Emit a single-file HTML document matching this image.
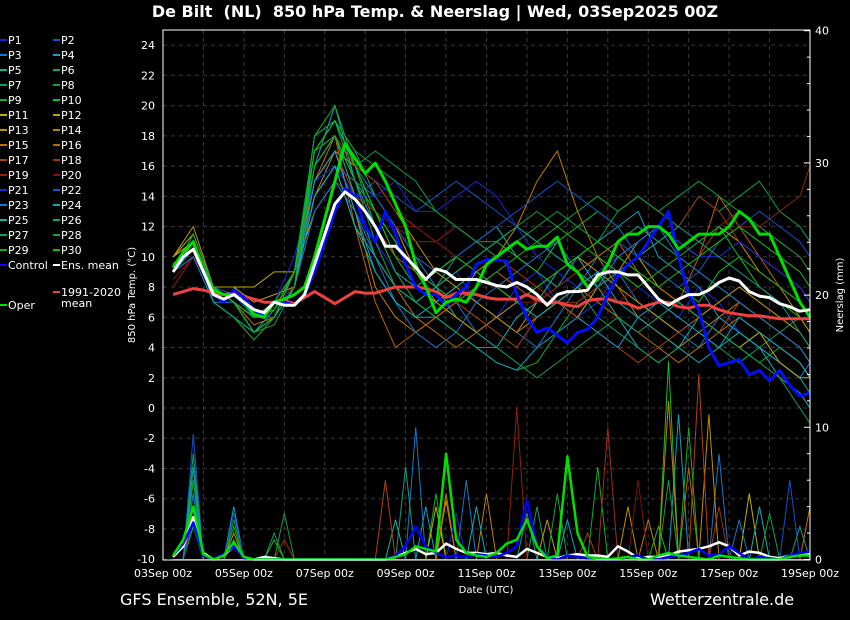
<!DOCTYPE html>
<html><head><meta charset="utf-8">
<style>
html,body{margin:0;padding:0;background:#000;}
svg{display:block;font-family:"DejaVu Sans","Liberation Sans",sans-serif;}
</style></head>
<body>
<svg id="chart" width="850" height="620" viewBox="0 0 850 620" xmlns="http://www.w3.org/2000/svg">
<rect width="850" height="620" fill="#000"/>
<text x="435" y="17" fill="#fff" font-size="16" font-weight="bold" text-anchor="middle">De Bilt &#160;(NL) &#160;850 hPa Temp. &amp; Neerslag | Wed, 03Sep2025 00Z</text>
<g id="grid"></g>
<g id="precip"></g>
<g id="members"></g>
<g id="mains"></g>
<rect x="163" y="30" width="647" height="530" fill="none" stroke="#fff" stroke-width="1"/>
<g id="axes"></g>
<g id="legend"></g>
<text x="486" y="593" fill="#fff" font-size="10" text-anchor="middle">Date (UTC)</text>
<text transform="translate(135,295) rotate(-90)" fill="#fff" font-size="10" text-anchor="middle">850 hPa Temp. (°C)</text>
<text transform="translate(843,295) rotate(-90)" fill="#fff" font-size="10" text-anchor="middle">Neerslag (mm)</text>
<text x="120" y="605" fill="#fff" font-size="16">GFS Ensemble, 52N, 5E</text>
<text x="650" y="605" fill="#fff" font-size="16">Wetterzentrale.de</text>
</svg>
<script>
// ---- data ----
const xTickLabels = ["03Sep 00z","05Sep 00z","07Sep 00z","09Sep 00z","11Sep 00z","13Sep 00z","15Sep 00z","17Sep 00z","19Sep 00z"];
const yTicksLeft = [-10,-8,-6,-4,-2,0,2,4,6,8,10,12,14,16,18,20,22,24];
const yTicksRight = [0,10,20,30,40];
// 6-hourly series starting at +6h
const ensMean = [9.0,10.0,10.5,9.0,7.5,7.2,7.5,7.0,6.5,6.3,7.0,6.8,6.8,7.5,9.5,11.5,13.5,14.3,13.8,13.0,12.0,10.7,10.7,10.0,9.3,8.5,9.2,9.0,8.5,8.5,8.5,8.3,8.1,8.0,8.3,8.0,7.5,6.8,7.5,7.7,7.7,7.8,8.8,9.0,9.0,8.8,8.8,8.0,7.2,6.8,7.2,7.5,7.5,7.8,8.3,8.6,8.4,7.7,7.4,7.3,6.9,6.7,6.4,6.5];
const control = [9.0,10.0,10.5,9.0,7.5,7.0,7.8,7.3,6.5,6.0,7.0,7.0,6.8,7.5,9.0,11.0,13.0,14.5,14.0,12.0,11.0,13.0,11.5,9.5,8.0,7.5,7.5,6.8,7.5,8.0,9.5,9.8,9.8,9.7,7.5,6.0,5.0,5.3,4.8,4.3,5.0,5.2,6.0,7.5,8.7,9.5,10.0,11.0,12.0,13.0,10.0,7.5,6.5,4.0,2.8,3.0,3.2,2.2,2.5,1.8,2.5,1.5,0.8,1.0];
const oper = [9.3,10.3,11.0,9.0,7.8,7.5,7.5,7.0,6.2,6.0,7.0,7.2,7.5,8.0,10.0,12.5,15.0,17.5,16.5,15.5,16.2,15.0,13.5,12.0,9.5,8.0,6.3,7.0,7.2,7.0,8.0,9.5,10.0,10.5,11.0,10.5,10.7,10.7,11.3,9.5,9.0,8.0,8.5,9.5,11.0,11.5,11.5,12.0,12.0,11.5,10.5,11.0,11.5,11.5,11.5,12.0,13.0,12.5,11.5,11.5,10.0,8.5,7.0,6.0];
const climate = [7.5,7.7,7.9,7.8,7.6,7.5,7.6,7.4,7.2,7.0,7.0,7.1,6.9,7.3,7.7,7.3,6.9,7.3,7.7,7.6,7.6,7.8,8.0,8.0,8.0,7.9,7.7,7.3,7.6,7.6,7.5,7.3,7.2,7.2,7.2,7.5,7.2,6.9,7.0,6.8,6.7,7.1,7.2,7.2,7.0,6.9,6.6,6.8,7.0,7.0,6.7,6.6,6.8,6.8,6.5,6.3,6.2,6.1,6.1,6.0,5.9,5.9,5.9,5.9];
const meanPrecip = [0.2,1.0,3.2,0.5,0,0.3,1.0,0.2,0,0.2,0.1,0,0,0,0,0,0,0,0,0,0,0,0.2,0.5,0.8,0.4,0.5,1.2,0.8,0.5,0.5,0.4,0.5,0.3,0.2,0.8,0.5,0.2,0.1,0.3,0.4,0.3,0.3,0.2,1.0,0.6,0.1,0.2,0.2,0.3,0.6,0.7,0.8,1.0,1.3,1.0,0.3,0.6,0.5,0.2,0.1,0.3,0.3,0.4];
const controlPrecip = [0.3,1.2,2.8,0.3,0,0.4,1.0,0.1,0,0,0,0,0,0,0,0,0,0,0,0,0,0,0.3,1.0,2.5,1.0,0.5,0.2,0.3,0.2,0.4,0.3,0.2,0.5,1.0,4.5,1.0,0.2,0,0.3,0.2,0.1,0,0,0,0.2,0.3,0,0,0.2,0.3,0.5,0.8,0.3,0.4,1.0,0.5,0,0.2,0.1,0,0.3,0.5,0.6];
const operPrecip = [0.3,1.5,4.0,0.4,0,0.3,1.3,0.2,0,0,0,0,0,0,0,0,0,0,0,0,0,0,0.2,0.4,1.0,0.8,0.6,8.0,1.5,0.5,0.3,0.2,0.5,1.2,1.5,3.0,1.0,0.1,0.3,7.8,2.0,0.2,0.1,0,0.1,0.2,0,0,0.3,0.5,0.3,0.2,0.1,0,0.3,0.2,0.1,0,0,0,0,0.2,0.3,0.3];
// members, 12-hourly from +6h
const members = [
[9,11,8,7,6,6.5,8,13,15,13,11,9,7,8,9,7,6,8,9,7,6,7,9,8,7,6,8,7,5,4,3,2,3],
[10,11,8,7.5,6,7,9,14,16,14,15,14,13,14,15,14,13,12,11,10,9,10,11,10,12,11,10,12,11,10,9,8,7],
[9,10,7,7,5,6,8,15,17,16,14,12,10,8,7,5,6,5,4,6,8,10,9,7,6,5,4,6,5,4,3,2,3],
[9.5,11,8,8,6,6,8,16,20,15,12,9,8,9,10,11,12,10,9,8,10,11,12,13,10,9,8,6,5,4,3,2,1],
[10,11,8,7,5,6.5,9,14,16,12,10,8,7,8,6,5,4,6,7,9,10,8,6,4,3,4,6,5,4,5,4,3,2],
[9,11.5,8,7,5,6,9,17,19,16,13,10,9,8,10,11,12,10,9,8,9,10,11,12,11,10,9,8,7,6,5,4,3],
[9,11,7,6,5,5.5,8,18,19,17,14,12,10,9,8,7,6,5,6,7,8,6,5,4,3,4,5,4,3,4,5,6,5],
[10,12,8,7,6,7,9,16,18,16,17,16,15,13,12,11,11,12,13,12,13,14,13,14,13,12,14,13,14,15,13,12,11],
[9,11,7,6,4.5,6,9,18,20,16,12,9,7,6,5,4,3,2.5,3,5,7,8,10,9,8,7,6,5,4,3,4,3,2],
[9,10.5,8,7,6,6.5,9,17,18,15,13,11,9,8,9,10,11,10,9,11,12,13,12,10,9,8,7,9,10,8,7,6,5],
[10,11.5,8,8,8,9,9,13,15,14,13,11,8,7,8,9,10,9,8,7,6,8,9,10,8,7,6,5,4,5,3,2,2],
[10,11,8,8,7,7.5,8,14,16,15,14,12,9,7,6,5,6,7,8,9,10,9,8,7,6,5,6,7,8,7,6,5,4],
[9.5,11,8,7,6,7,9,15,17,16,15,13,11,9,8,7,6,5,7,8,9,10,9,11,12,11,10,12,11,9,8,6,5],
[10,12,8,7,6,6,9,14,17,13,8,6,5,6,7,9,10,12,15,17,13,10,8,6,5,4,5,6,7,6,5,4,3],
[9,11,8,7,5.5,6,9,15,18,14,10,8,6,5,4,5,6,5,6,7,8,7,6,5,4,3,4,5,6,5,4,3,2],
[9,11,8,7,6,6.5,9,16,18,12,7,4,5,6,7,8,9,8,7,8,9,10,11,9,8,7,10,14,12,10,8,7,6],
[9,11,8,7,6,6,8,15,17,14,12,10,9,8,7,6,5,4,6,7,6,5,4,3,4,5,6,5,7,6,5,4,3],
[9,11,8,7,6,7,9,16,18,16,15,13,12,11,10,9,8,9,8,7,7,8,9,10,11,12,14,13,11,10,9,8,7],
[8,10,8,7,6,7,8,13,15,14,13,12,11,11,12,11,10,9,8,7,8,9,10,11,12,11,10,12,13,12,13,14,16],
[8.5,10,8,7,6,7,8,14,16,15,13,12,12,11,10,9,8,7,7,8,9,8,7,8,9,10,9,11,12,12,11,10,9],
[9,10.5,8,7,6,7,10,15,16,14,14,15,13,13,14,15,14,12,10,9,8,9,10,11,12,11,10,10,11,10,9,8,7],
[9,11,8,7,6,6,9,14,16,15,14,12,10,9,10,11,12,13,14,15,14,13,12,10,9,8,9,11,12,13,12,11,10],
[9,10,7,6,5,6,8,13,15,13,10,7,5,4,5,7,8,9,10,11,9,8,10,11,12,10,9,8,7,6,5,4,3],
[9,11,8,7,5,6,8,15,17,13,9,7,6,6,5,4,3,2.5,4,5,6,5,4,6,7,6,5,4,6,5,4,3,2],
[9,10.5,8,7,5,6,8,14,16,12,9,7,6,7,8,9,8,7,6,7,8,9,7,6,5,4,3,4,5,4,2,1,0],
[9,11,7,6,5,6,9,16,18,14,10,8,7,8,9,10,11,12,11,10,9,8,9,10,11,12,11,10,9,8,7,5,4],
[9,11,8,7,5,6,8,17,19,15,11,8,7,6,5,4,4,3,2,3,4,5,6,5,6,7,6,5,4,3,2,0,-1],
[9,11.5,8,7,6,7,9,18,19,17,16,15,14,13,12,11,10,11,12,13,12,11,13,14,13,14,15,14,13,12,11,10,9],
[9,11,8,7,5,6,8,16,18,15,13,11,9,8,7,8,9,10,11,12,11,10,9,8,9,10,11,12,10,9,8,7,6],
[9,11,8,7,6,6.5,9,17,19,16,13,10,8,9,10,9,8,7,8,9,10,11,10,9,8,9,10,11,12,11,10,9,8]
];
// precipitation spikes: [member index, hour, mm]
const precipSpikes = [
[0,18,5],[1,18,9.5],[2,18,6],[3,18,7],[4,18,4],[5,18,8],[6,18,3],[7,18,5],[8,18,6],[9,18,2.5],[12,18,3],[15,18,4],[20,18,3],[22,18,5],[25,18,7],
[3,42,4],[7,42,3],[11,42,2],[21,42,3.5],[28,42,2.5],[8,42,1.5],
[6,66,2],[9,66,1.5],[27,72,3.5],[17,72,1.5],
[16,132,6],[4,138,3],[5,144,7],[2,150,10],[3,156,4],[8,162,5],[10,162,4],[12,168,4.5],[14,168,5],[20,174,3.5],[22,180,6],[24,186,4],[13,192,5],
[18,210,11.5],[25,216,3.5],[6,222,4],[11,228,3],[27,234,5],[23,240,3],
[16,252,2],[17,264,10],[8,258,7],[12,276,4],[19,282,6],[13,288,3],[29,294,2.5],
[13,300,12],[9,300,15],[7,300,6],[3,306,11],[28,312,10],[15,312,7],[16,318,14],[12,324,11],[2,330,8],[17,330,4],[22,342,3],[10,348,5],[24,354,4],[27,360,3.5],[1,372,6],[25,378,2.5],[14,384,4]
];
const memberColors = ["#1828e0","#1850c8","#1878c8","#10a0c8","#10b0b0","#10a080","#10a060","#10a040","#10b020","#10c010","#c0b000","#c0a000","#c09000","#c08000","#c07000","#c06000","#b04010","#a03010","#902010","#801010"];

// ---- scales ----
const X0=163, X1=810, Y_TOP=30, Y_BOT=560;
const xH = h => X0 + (X1-X0)*h/384;
const yT = v => 408 - 15.12*v;
const yP = mm => 559.5 - 13.22*mm;
const NS="http://www.w3.org/2000/svg";
function mk(tag, attrs, parent){const e=document.createElementNS(NS,tag);for(const k in attrs)e.setAttribute(k,attrs[k]);parent.appendChild(e);return e;}

// grid
const grid=document.getElementById('grid');
for(const v of yTicksLeft){
  const g=mk('line',{x1:X0,x2:X1,y1:yT(v),y2:yT(v),stroke:'#3a3a3a','stroke-dasharray':'4,4','stroke-width':1},grid);
  
  
}
for(let d=1;d<16;d++){
  const g=mk('line',{x1:xH(d*24),x2:xH(d*24),y1:Y_TOP,y2:Y_BOT,stroke:'#3a3a3a','stroke-dasharray':'4,4','stroke-width':1},grid);
  
  
}
// axes labels
const axes=document.getElementById('axes');
for(const v of yTicksLeft){
  const t=mk('text',{x:155,y:yT(v)+4,fill:'#fff','font-size':11,'text-anchor':'end'},axes);t.textContent=v;
  
  
}
for(const v of yTicksRight){
  const t=mk('text',{x:815,y:yP(v)+4,fill:'#fff','font-size':11},axes);t.textContent=v;
  
  
}
for(let m=0;m<=40;m+=2){
  const len = m%10===0?6:3;
  const tk=mk('line',{x1:X1-len,x2:X1,y1:yP(m),y2:yP(m),stroke:'#fff','stroke-width':1},axes);
  
  
}
xTickLabels.forEach((s,i)=>{
  const t=mk('text',{x:xH(i*48),y:577,fill:'#fff','font-size':11,'text-anchor':'middle'},axes);t.textContent=s;
  
  
});

function pathFrom(vals, hourFn, yFn){
  return vals.map((v,i)=>(i?'L':'M')+xH(hourFn(i)).toFixed(1)+','+yFn(v).toFixed(1)).join(' ');
}
const h6 = i=>6+6*i;
const h12 = i=>Math.min(6+12*i,384);

// member precip
const pg=document.getElementById('precip');
members.forEach((m,k)=>{
  const arr=new Array(64).fill(0);
  precipSpikes.forEach(s=>{ if(s[0]===k){ const idx=Math.round((s[1]-6)/6); if(idx>=0&&idx<64) arr[idx]=s[2]; } });
  const p=mk('path',{d:pathFrom(arr,h6,yP),fill:'none',stroke:memberColors[k%20],'stroke-width':1},pg);
  
  
});
// member temps
const mg=document.getElementById('members');
members.forEach((m,k)=>{
  const p=mk('path',{d:pathFrom(m,h12,yT),fill:'none',stroke:memberColors[k%20],'stroke-width':1},mg);
  
  
});
// main lines
const main=document.getElementById('mains');
const mains=[
 ['precip-ens-mean',meanPrecip,yP,'#fff',2.5],
 ['precip-control',controlPrecip,yP,'#0000ff',2.5],
 ['precip-oper',operPrecip,yP,'#00e000',2.5],
 ['climate-mean-line',climate,yT,'#f04040',3],
 ['control-line',control,yT,'#0010ff',3],
 ['oper-line',oper,yT,'#00e000',3],
 ['ens-mean-line',ensMean,yT,'#ffffff',3]
];
mains.forEach(([n,vals,yf,c,w])=>{
  const p=mk('path',{d:pathFrom(vals,h6,yf),fill:'none',stroke:c,'stroke-width':w,'stroke-linejoin':'round'},main);
  
  
});

// legend
const lg=document.getElementById('legend');
for(let i=0;i<30;i++){
  const col=i%2, row=Math.floor(i/2);
  const x=col?53:0, y=40+row*15;
  const ln=mk('line',{x1:x,x2:x+7,y1:y,y2:y,stroke:memberColors[i%20],'stroke-width':2},lg);
  
  
  const t=mk('text',{x:x+8,y:y+4,fill:'#fff','font-size':11},lg);t.textContent='P'+(i+1);
  
  
}
const extra=[[0,265,'#0010ff','Control'],[53,265,'#fff','Ens. mean'],[53,292,'#f04040','1991-2020'],[0,305,'#00e000','Oper']];
extra.forEach(([x,y,c,s])=>{
  const ln=mk('line',{x1:x,x2:x+7,y1:y,y2:y,stroke:c,'stroke-width':2},lg);
  
  
  const t=mk('text',{x:x+8,y:y+4,fill:'#fff','font-size':11},lg);t.textContent=s;
  
  
});
const t2=mk('text',{x:61,y:307,fill:'#fff','font-size':11},lg);t2.textContent='mean';


</script>
</body></html>
